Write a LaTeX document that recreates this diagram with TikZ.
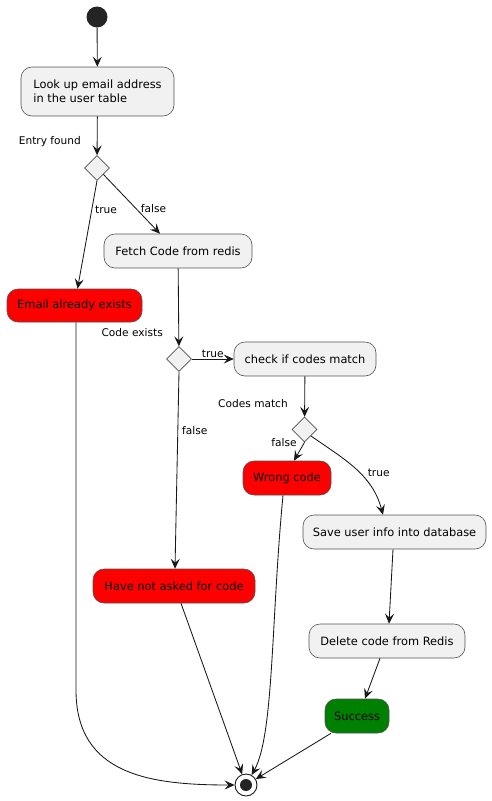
\documentclass[tikz,border=0pt]{standalone}
\usepackage{fontspec}
\setmainfont{DejaVu Sans}
\usetikzlibrary{arrows.meta,shapes.geometric,calc}
\definecolor{boxfill}{HTML}{F1F1F1}
\definecolor{linec}{HTML}{181818}
\definecolor{redfill}{HTML}{FF0000}
\definecolor{greenfill}{HTML}{008000}
\begin{document}
\begin{tikzpicture}[x=1pt,y=-1pt,
  act/.style={draw=linec!75, line width=0.6pt, fill=boxfill, rounded corners=11pt,
    inner sep=0pt, font=\fontsize{11.4}{14}\selectfont},
  bad/.style={act, fill=redfill},
  good/.style={act, fill=greenfill},
  dec/.style={diamond, draw=linec!75, line width=0.6pt, fill=boxfill, inner sep=0pt,
    minimum width=25pt, minimum height=25pt},
  lbl/.style={font=\fontsize{10.6}{12}\selectfont, inner sep=0pt},
  arr/.style={draw=linec, line width=0.85pt, -{Stealth[length=10pt,width=9pt,inset=4pt]}}
]
\useasboundingbox (0,0) rectangle (491,801);
\node[circle, fill=linec!95, minimum size=21pt, inner sep=0pt] (start) at (97,17) {};
\node[act, minimum width=153pt, minimum height=49pt, align=left] (lookup) at (97.5,91.5)
  {Look up email address\\in the user table};
\node[lbl, anchor=east] (lentry) at (81,142) {Entry found};
\node[dec] (d1) at (97,168) {};
\node[act, minimum width=148pt, minimum height=34pt] (fetch) at (178,251) {Fetch Code from redis};
\node[bad, minimum width=135pt, minimum height=33pt] (email) at (74.5,305.5) {Email already exists};
\node[lbl, anchor=east] (lcode) at (163,333) {Code exists};
\node[dec] (d2) at (179,359) {};
\node[act, minimum width=142pt, minimum height=34pt] (check) at (305,359) {check if codes match};
\node[lbl, anchor=east] (lmatch) at (288,404) {Codes match};
\node[dec] (d3) at (304.5,429.5) {};
\node[bad, minimum width=88pt, minimum height=34pt] (wrong) at (287,478) {Wrong code};
\node[act, minimum width=183pt, minimum height=34pt] (save) at (394.5,532) {Save user info into database};
\node[bad, minimum width=162pt, minimum height=34pt] (have) at (174,586) {Have not asked for code};
\node[act, minimum width=156pt, minimum height=34pt] (delete) at (387,641) {Delete code from Redis};
\node[good, minimum width=64pt, minimum height=34pt] (success) at (357,716) {Success};
\node[circle, draw=linec, line width=0.9pt, fill=white, minimum size=22pt, inner sep=0pt] (endn) at (246,785) {};
\node[circle, fill=linec!95, minimum size=12pt, inner sep=0pt] (endin) at (246,785) {};

\draw[arr] (start) -- (lookup);
\draw[arr] (lookup) -- (d1);
\draw[arr] (d1.south) -- node[lbl, pos=0.27, right=3pt] {true} ($(email.north)+(3,0)$);
\draw[arr] (d1.south east) -- node[lbl, pos=0.55, right=6pt, yshift=-2pt] {false} ($(fetch.north)+(-18,0)$);
\draw[arr] (fetch) -- (d2);
\draw[arr] (d2.east) -- node[lbl, pos=0.5, above=1pt] {true} (check.west);
\draw[arr] (d2.south) -- node[lbl, pos=0.3, right=4pt] {false} ($(have.north)+(1,0)$);
\draw[arr] (check) -- (d3);
\draw[arr] (d3.south) -- ($(wrong.north)+(7,0)$);
\node[lbl] (lfalse3) at (284,443) {false};
\draw[arr] (d3.south east) to[out=-35,in=105] node[lbl, pos=0.55, right=8pt] {true} ($(save.north)+(-11.5,0)$);
\draw[arr] ($(save.south)+(-1.5,0)$) -- ($(delete.north)+(2,0)$);
\draw[arr] ($(delete.south)+(-7,0)$) -- ($(success.north)+(8,0)$);
\draw[arr] ($(success.south)+(-26,0)$) -- (endn);
\draw[arr] ($(have.south)+(7,0)$) -- (endn);
\draw[arr] ($(wrong.south)+(-4,0)$) .. controls (271,620) and (274,735) .. (endn);
\draw[arr] ($(email.south)+(1.5,0)$) -- (76,690) .. controls (76,775) and (150,785) .. (endn.west);
\end{tikzpicture}
\end{document}
